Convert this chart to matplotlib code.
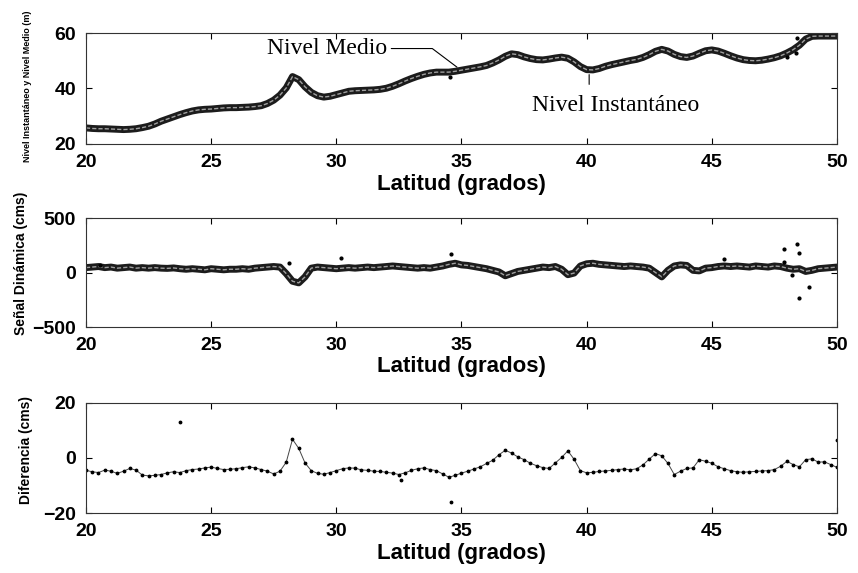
import numpy as np
import matplotlib
matplotlib.use("Agg")
import matplotlib.pyplot as plt

# latitudes (grados), one value each 0.25 deg
lat = np.arange(20.0, 50.001, 0.25)

# Nivel instantaneo / medio (m)
nivel = [25.8, 25.6, 25.5, 25.5, 25.4, 25.3, 25.2, 25.3, 25.5, 25.9,
         26.4, 27.2, 28.2, 29.0, 29.8, 30.6, 31.3, 31.9, 32.3, 32.5,
         32.6, 32.8, 33.0, 33.1, 33.1, 33.2, 33.3, 33.5, 33.8, 34.6,
         35.8, 37.6, 40.2, 44.3, 43.2, 40.6, 38.6, 37.4, 36.9, 37.2,
         37.8, 38.4, 39.0, 39.2, 39.3, 39.4, 39.5, 39.7, 40.1, 40.8,
         41.7, 42.7, 43.6, 44.4, 45.1, 45.6, 45.9, 45.9, 45.9, 46.2,
         46.6, 47.0, 47.4, 47.8, 48.3, 49.2, 50.3, 51.6, 52.5, 52.2,
         51.4, 50.8, 50.4, 50.3, 50.6, 51.0, 51.3, 50.9, 49.6, 47.9,
         46.8, 46.7, 47.2, 48.0, 48.6, 49.1, 49.6, 50.1, 50.5, 51.2,
         52.2, 53.4, 54.1, 53.5, 52.3, 51.5, 51.2, 51.7, 52.7, 53.6,
         53.9, 53.5, 52.7, 51.8, 51.0, 50.4, 50.1, 50.0, 50.2, 50.6,
         51.1, 51.8, 52.8, 54.0, 55.6, 57.8, 58.8, 58.9, 58.9, 58.9,
         58.9]
nivel_out_lat = [34.55, 48.0, 48.37, 48.4]
nivel_out_val = [44.0, 51.5, 52.7, 58.1]

# Senal dinamica (cms)
senal = [45, 50, 55, 45, 50, 40, 45, 50, 40, 45,
         40, 45, 40, 38, 42, 35, 30, 35, 30, 25,
         35, 30, 25, 30, 30, 35, 30, 40, 45, 50,
         55, 50, -10, -80, -95, -40, 40, 50, 45, 40,
         35, 40, 45, 40, 45, 50, 45, 50, 55, 60,
         55, 50, 45, 40, 45, 40, 50, 60, 75, 85,
         70, 65, 55, 45, 35, 20, 5, -30, -10, 10,
         20, 30, 40, 50, 45, 55, 30, -20, -5, 60,
         80, 85, 75, 70, 65, 60, 55, 60, 55, 50,
         40, 0, -40, 20, 60, 70, 65, 20, 15, 40,
         45, 55, 60, 55, 60, 55, 50, 60, 55, 50,
         60, 55, 40, 30, 35, 10, 20, 35, 40, 45,
         50]
senal_out_lat = [20.56, 28.1, 30.2, 34.6, 45.5, 47.9, 47.9, 48.2, 48.4, 48.5, 48.5, 48.9]
senal_out_val = [69, 90, 136, 167, 124, 213, 99, -23, 259, 182, -237, -130]

# Diferencia (cms)
difer = [-4.5, -5.0, -5.3, -4.4, -4.8, -5.6, -4.8, -3.8, -4.4, -6.2,
         -6.5, -6.3, -6.0, -5.4, -5.0, -5.3, -4.6, -4.2, -4.0, -3.6,
         -3.3, -3.8, -4.2, -4.1, -3.9, -3.5, -3.2, -3.6, -4.2, -4.8,
         -5.8, -4.8, -1.5, 6.8, 3.5, -1.8, -4.6, -5.6, -5.9, -5.3,
         -4.6, -3.9, -3.6, -3.7, -4.3, -4.5, -4.8, -4.9, -5.2, -5.5,
         -6.0, -5.4, -4.5, -3.9, -3.6, -4.2, -4.6, -5.8, -7.0, -6.3,
         -5.5, -4.8, -4.0, -3.2, -2.0, -0.8, 1.2, 2.8, 1.8, 0.4,
         -0.6, -1.9, -2.8, -3.5, -3.8, -1.8, 0.2, 2.6, -0.5, -4.6,
         -5.4, -5.2, -4.9, -4.7, -4.5, -4.2, -4.0, -4.3, -3.9, -2.5,
         -0.4, 1.6, 0.8, -2.0, -6.0, -4.8, -3.8, -3.6, -0.6, -1.2,
         -1.9, -3.2, -3.9, -4.6, -5.0, -5.2, -5.0, -4.9, -4.7, -4.6,
         -4.2, -3.0, -1.2, -2.4, -3.2, -0.6, -0.3, -1.5, -1.4, -2.4,
         -3.4]
difer_out_lat = [23.75, 32.6, 34.6, 50.0]
difer_out_val = [13.0, -8.0, -15.9, 6.5]

xticks = [20, 25, 30, 35, 40, 45, 50]

plt.rcParams['font.family'] = ['Liberation Sans', 'DejaVu Sans']

fig = plt.figure(figsize=(8.58, 5.73), dpi=100)
fig.patch.set_facecolor('white')

left, width = 0.1002, 0.8753
ax1 = fig.add_axes([left, 0.7487, width, 0.1937])
ax2 = fig.add_axes([left, 0.4293, width, 0.1902])
ax3 = fig.add_axes([left, 0.1047, width, 0.1920])


def band(ax, x, y):
    # thick dark trace with a light speckled core, like the scanned marker band
    ax.plot(x, y, color='#1c1c1c', lw=5.0, solid_joinstyle='round', solid_capstyle='round')
    ax.plot(x, y, color='#a0a0a0', lw=1.0, ls=(0, (3, 1.5)))


band(ax1, lat, nivel)
ax1.plot(nivel_out_lat, nivel_out_val, '.', color='k', ms=4)
band(ax2, lat, senal)
ax2.plot(senal_out_lat, senal_out_val, '.', color='k', ms=4)
ax3.plot(lat, difer, color='#444444', lw=0.7, marker='.', ms=3.5, mfc='k', mec='k')
ax3.plot(difer_out_lat, difer_out_val, '.', color='k', ms=3.5)

ylims = [(20, 60), (-500, 500), (-20, 20)]
yticks = [[20, 40, 60], [-500, 0, 500], [-20, 0, 20]]
for ax, yl, yt in zip([ax1, ax2, ax3], ylims, yticks):
    ax.set_xlim(20, 50)
    ax.set_ylim(*yl)
    ax.set_xticks(xticks)
    ax.set_yticks(yt)
    ax.tick_params(direction='in', top=True, right=True, length=4, width=0.8,
                   labelsize=14, pad=7)
    for lab in ax.get_xticklabels() + ax.get_yticklabels():
        lab.set_fontweight('bold')
    for s in ax.spines.values():
        s.set_linewidth(0.8)
        s.set_color('#333333')
    ax.set_xlabel('Latitud (grados)', fontsize=16, fontweight='bold')
    ax.xaxis.set_label_coords(0.5, -0.27)

ax1.set_ylabel('Nivel Instantáneo y Nivel Medio (m)', fontsize=6.5, fontweight='bold')
ax1.yaxis.set_label_coords(-0.072, 0.52)
ax2.set_ylabel('Señal Dinámica (cms)', fontsize=10, fontweight='bold')
ax2.yaxis.set_label_coords(-0.077, 0.58)
ax3.set_ylabel('Diferencia (cms)', fontsize=10, fontweight='bold')
ax3.yaxis.set_label_coords(-0.071, 0.57)

ax1.annotate('Nivel Medio', xy=(34.82, 47.7), xytext=(29.63, 54.4),
             ha='center', va='center', fontsize=17, family='Liberation Serif',
             arrowprops=dict(arrowstyle='-', color='k', lw=0.8, relpos=(1.0, 0.5),
                             shrinkA=1, shrinkB=0,
                             connectionstyle='angle,angleA=0,angleB=-37,rad=0'))
ax1.annotate('Nivel Instantáneo', xy=(40.1, 45.0), xytext=(41.17, 33.7),
             ha='center', va='center', fontsize=17, family='Liberation Serif',
             arrowprops=dict(arrowstyle='-', color='k', lw=0.8, relpos=(0.34, 1.0),
                             shrinkA=6, shrinkB=0))

fig.savefig('out.png', dpi=100, facecolor='white')
